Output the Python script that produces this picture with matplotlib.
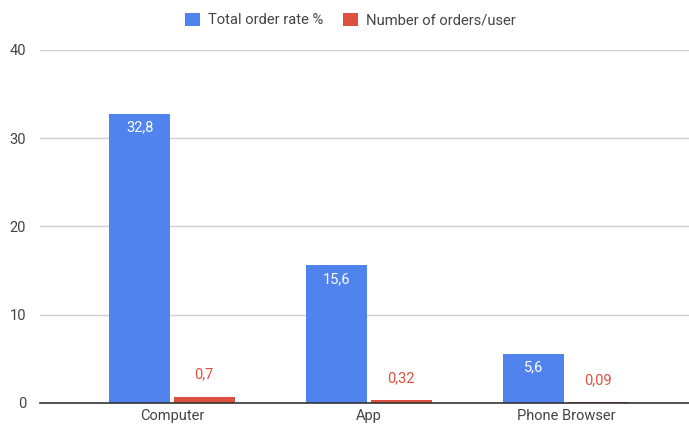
"""Grouped bar chart: order rate and orders per user by device."""

import matplotlib

matplotlib.use("Agg")

import matplotlib.pyplot as plt
import numpy as np

categories = ["Computer", "App", "Phone Browser"]
order_rate = [32.8, 15.6, 5.6]
orders_per_user = [0.7, 0.32, 0.09]
rate_labels = ["32,8", "15,6", "5,6"]
per_user_labels = ["0,7", "0,32", "0,09"]
y_ticks = [0, 10, 20, 30, 40]

BLUE = "#5083ED"
RED = "#DD5040"
TEXT = "#444444"

plt.rcParams["font.family"] = ["Roboto", "DejaVu Sans"]

W, H = 689, 426
fig = plt.figure(figsize=(W / 100, H / 100), dpi=100)
ax = fig.add_axes([40 / W, 23 / H, (689 - 40) / W, 353 / H])

x = np.arange(len(categories))
bar_w = 0.31
gap = 0.008
ax.bar(x - bar_w / 2 - gap, order_rate, bar_w, color=BLUE, zorder=3,
       label="Total order rate %")
ax.bar(x + bar_w / 2 + gap, orders_per_user, bar_w, color=RED, zorder=3,
       label="Number of orders/user")

for xi, v, lab in zip(x, order_rate, rate_labels):
    ax.annotate(lab, (xi - bar_w / 2 - gap, v), xytext=(0, -5),
                textcoords="offset points", ha="center", va="top",
                color="white", fontsize=10.5)
for xi, v, lab in zip(x, orders_per_user, per_user_labels):
    ax.annotate(lab, (xi + bar_w / 2 + gap, v), xytext=(0, 11),
                textcoords="offset points", ha="center", va="bottom",
                color=RED, fontsize=10.5)

ax.set_xlim((40 - 172) / 197, (689 - 172) / 197)
ax.set_ylim(0, 40)
ax.set_yticks(y_ticks)
ax.set_xticks(x)
ax.set_xticklabels(categories)
ax.tick_params(axis="both", length=0, labelsize=10.5, colors=TEXT, pad=4)
ax.tick_params(axis="y", pad=10)
ax.grid(axis="y", color="#D0D0D0", linewidth=1, zorder=0)
for side in ["top", "right", "left"]:
    ax.spines[side].set_visible(False)
ax.spines["bottom"].set_color("#333333")
ax.spines["bottom"].set_linewidth(1.2)
ax.spines["bottom"].set_zorder(4)

fig.legend(loc="center", bbox_to_anchor=(0.5 + 6 / W, 1 - 20 / H), ncol=2,
           frameon=False, fontsize=10.6, handlelength=1.0, handleheight=1.0,
           columnspacing=1.3, handletextpad=0.6, labelcolor=TEXT)

fig.savefig("out.png", dpi=100)
